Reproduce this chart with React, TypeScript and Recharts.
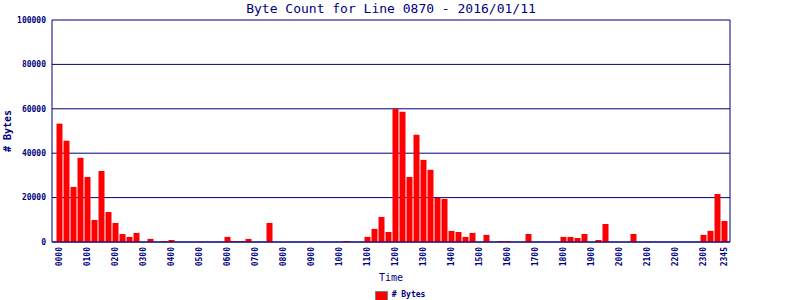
import React from 'react';
import { BarChart, Bar, XAxis, YAxis, CartesianGrid, Legend } from 'recharts';

const NAVY = '#000080';
const FONT = '"DejaVu Sans Mono", monospace';

// 15-minute slots for the day
const times = [
  '0000', '0015', '0030', '0045', '0100', '0115', '0130', '0145',
  '0200', '0215', '0230', '0245', '0300', '0315', '0330', '0345',
  '0400', '0415', '0430', '0445', '0500', '0515', '0530', '0545',
  '0600', '0615', '0630', '0645', '0700', '0715', '0730', '0745',
  '0800', '0815', '0830', '0845', '0900', '0915', '0930', '0945',
  '1000', '1015', '1030', '1045', '1100', '1115', '1130', '1145',
  '1200', '1215', '1230', '1245', '1300', '1315', '1330', '1345',
  '1400', '1415', '1430', '1445', '1500', '1515', '1530', '1545',
  '1600', '1615', '1630', '1645', '1700', '1715', '1730', '1745',
  '1800', '1815', '1830', '1845', '1900', '1915', '1930', '1945',
  '2000', '2015', '2030', '2045', '2100', '2115', '2130', '2145',
  '2200', '2215', '2230', '2245', '2300', '2315', '2330', '2345',
];

const bytes = [
  53300, 45600, 24800, 37900, 29300, 9900, 32000, 13500,
  8600, 3600, 2300, 4100, 0, 1400, 0, 400,
  900, 0, 0, 0, 0, 0, 0, 0,
  2300, 400, 400, 1400, 0, 0, 8600, 0,
  0, 0, 0, 0, 0, 0, 0, 0,
  0, 400, 0, 0, 2300, 5900, 11300, 4500,
  60000, 58700, 29300, 48300, 37000, 32500, 19900, 19400,
  5000, 4500, 2300, 4100, 0, 3200, 0, 400,
  400, 0, 0, 3600, 0, 0, 0, 0,
  2300, 2300, 1800, 3600, 0, 900, 8100, 0,
  0, 0, 3600, 0, 0, 0, 0, 0,
  0, 0, 0, 0, 3200, 5000, 21600, 9500,
];

const xTicks = [
  '0000', '0100', '0200', '0300', '0400', '0500', '0600', '0700',
  '0800', '0900', '1000', '1100', '1200', '1300', '1400', '1500',
  '1600', '1700', '1800', '1900', '2000', '2100', '2200', '2300', '2345',
];

const yTicks = [0, 20000, 40000, 60000, 80000, 100000];

const data = times.map((t, i) => ({ time: t, bytes: bytes[i] }));

const TimeTick = ({ x, y, payload }: any) => (
  <text
    x={x}
    y={y}
    transform={`rotate(-90 ${x} ${y})`}
    textAnchor="end"
    dy="0.35em"
    fill={NAVY}
    fontSize={8}
    fontWeight="bold"
    fontFamily={FONT}
  >
    {payload.value}
  </text>
);

const YLabel = ({ viewBox }: any) => {
  const cx = viewBox.x + 7.5;
  const cy = viewBox.y + viewBox.height / 2;
  return (
    <text
      x={cx}
      y={cy}
      transform={`rotate(-90 ${cx} ${cy})`}
      textAnchor="middle"
      dominantBaseline="central"
      fill={NAVY}
      fontSize={10}
      fontWeight="bold"
      fontFamily={FONT}
    >
      # Bytes
    </text>
  );
};

const LegendContent = () => (
  <div style={{ height: 12, display: 'flex', justifyContent: 'center', alignItems: 'flex-start' }}>
    <div
      style={{
        width: 11,
        height: 8,
        marginTop: 3,
        background: '#ff0000',
        border: '1px solid #808080',
      }}
    />
    <span
      style={{
        marginLeft: 4,
        marginTop: 2,
        fontSize: 8,
        lineHeight: '10px',
        fontWeight: 'bold',
        fontFamily: FONT,
        color: NAVY,
      }}
    >
      # Bytes
    </span>
  </div>
);

const App: React.FC = () => {
  return (
    <div style={{ position: 'absolute', left: 0, top: 0, width: 800, height: 300, background: '#fff' }}>
      <BarChart
        width={800}
        height={300}
        data={data}
        margin={{ top: 20, right: 0, bottom: 0, left: 0 }}
        barCategoryGap={0}
      >
        <text
          x={391}
          y={8}
          textAnchor="middle"
          dominantBaseline="central"
          fill={NAVY}
          fontSize={13}
          fontFamily={FONT}
        >
          Byte Count for Line 0870 - 2016/01/11
        </text>
        <CartesianGrid vertical={false} stroke={NAVY} yAxisId="left" />
        <XAxis
          dataKey="time"
          ticks={xTicks}
          interval={0}
          height={46}
          padding={{ left: 3.5, right: 2.5 }}
          axisLine={{ stroke: NAVY }}
          tickLine={false}
          tickSize={3}
          tickMargin={2}
          tick={<TimeTick />}
          label={{ value: 'Time', position: 'insideBottom', offset: 7, fill: NAVY, fontSize: 10, fontFamily: FONT }}
        />
        <YAxis
          yAxisId="left"
          width={52}
          domain={[0, 100000]}
          ticks={yTicks}
          interval={0}
          axisLine={{ stroke: NAVY }}
          tickLine={false}
          tickSize={4}
          tickMargin={2}
          tick={{ fill: NAVY, fontSize: 8, fontWeight: 'bold', fontFamily: FONT }}
          label={<YLabel />}
        />
        <YAxis
          yAxisId="right"
          orientation="right"
          width={70}
          domain={[0, 100000]}
          tick={false}
          tickLine={false}
          axisLine={{ stroke: NAVY }}
        />
        <Legend verticalAlign="bottom" align="center" content={<LegendContent />} />
        <Bar
          yAxisId="left"
          dataKey="bytes"
          name="# Bytes"
          fill="#ff0000"
          barSize={6}
          isAnimationActive={false}
        />
      </BarChart>
    </div>
  );
};

export default App;
